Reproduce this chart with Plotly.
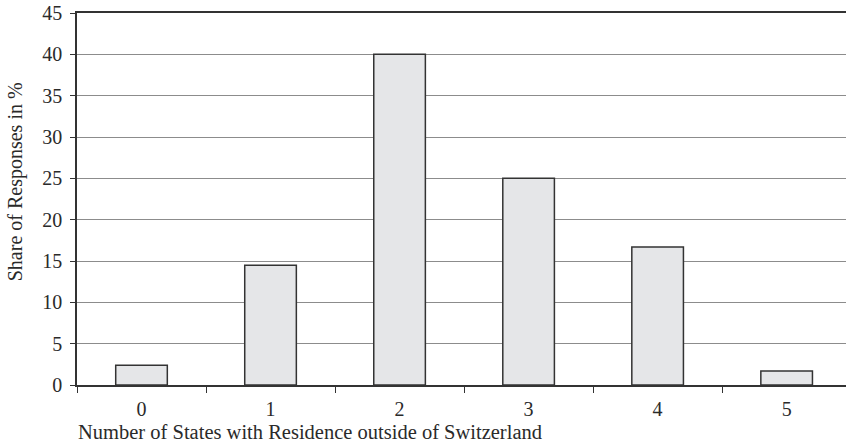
import plotly.graph_objects as go

categories = ["0", "1", "2", "3", "4", "5"]
shares = [2.4, 14.5, 40, 25, 16.7, 1.7]
y_ticks = [0, 5, 10, 15, 20, 25, 30, 35, 40, 45]
x_title = "Number of States with Residence outside of Switzerland"
y_title = "Share of Responses in %"

font_family = "Liberation Serif, DejaVu Serif, serif"
text_color = "#2a2a2a"

fig = go.Figure()
fig.add_trace(go.Bar(
    x=categories, y=shares, width=0.4,
    marker=dict(color="#e5e6e8", line=dict(color="#333333", width=1.5)),
))

fig.update_layout(
    width=846, height=444,
    margin=dict(l=77, r=0, t=13, b=59, autoexpand=False),
    plot_bgcolor="white", paper_bgcolor="white",
    showlegend=False,
    font=dict(family=font_family, color=text_color, size=20),
    xaxis=dict(
        type="category", range=[-0.5, 5.46], automargin=False,
        tickson="boundaries", ticks="outside", ticklen=6, tickwidth=1, tickcolor="#333",
        showline=True, linecolor="#333", linewidth=1.5, mirror=True,
        showgrid=False, tickfont=dict(size=20), ticklabelstandoff=5,
    ),
    yaxis=dict(
        range=[0, 45], tickvals=y_ticks, automargin=False,
        ticks="outside", ticklen=5, tickwidth=1, tickcolor="#333",
        showline=True, linecolor="#333", linewidth=1.5,
        showgrid=True, gridcolor="#8c8c8c", gridwidth=1.3,
        zeroline=False, tickfont=dict(size=20), ticklabelstandoff=4,
    ),
    annotations=[
        dict(text=x_title, xref="paper", yref="paper", x=0.303, y=0, yshift=-47,
             xanchor="center", yanchor="middle", showarrow=False, font=dict(size=20.5)),
        dict(text=y_title, xref="paper", yref="paper", x=0, xshift=-62, y=0.545,
             xanchor="center", yanchor="middle", textangle=-90, showarrow=False,
             font=dict(size=20)),
    ],
)

fig.write_html("out.html", config={"displayModeBar": False},
               post_script="document.body.style.margin='0';")
